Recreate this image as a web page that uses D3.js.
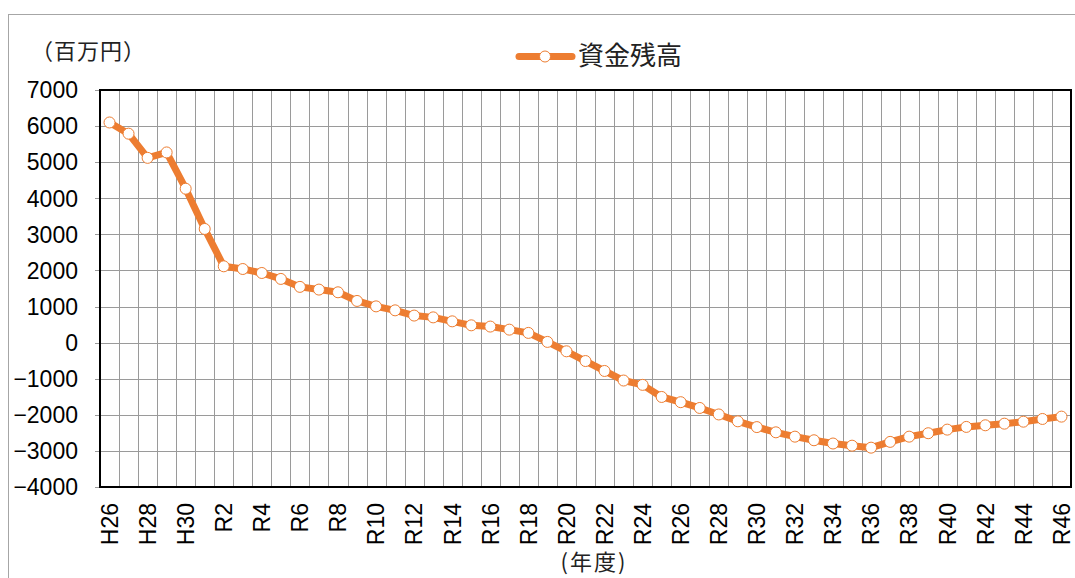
<!DOCTYPE html>
<html lang="ja">
<head>
<meta charset="UTF-8">
<title>資金残高</title>
<script src="https://d3js.org/d3.v7.min.js"></script>
<style>
  body { margin: 0; background: #fff; }
  svg { display: block; }
  .num { font-family: "Liberation Sans", Arial, sans-serif; fill: #000; }
  .jp { font-family: "Noto Sans CJK JP", sans-serif; fill: #222; }
</style>
</head>
<body>
<svg width="1075" height="578"></svg>
<script>
// 年度（H26〜H30, R1〜R46）
const years = ["H26", "H27", "H28", "H29", "H30"]
  .concat(d3.range(1, 47).map(i => "R" + i));

// 資金残高（百万円）
const balance = [
  6100, 5790, 5120, 5270, 4265,
  3150, 2115, 2040, 1930, 1765, 1545, 1470, 1395, 1155, 1005,
  895, 750, 700, 590, 480, 445, 360, 270, 20, -240,
  -510, -785, -1050, -1170, -1505, -1650, -1810, -1990, -2180, -2340,
  -2485, -2605, -2705, -2795, -2855, -2910, -2750, -2605, -2510, -2410,
  -2335, -2290, -2245, -2190, -2115, -2050
];

const yTicks = [7000, 6000, 5000, 4000, 3000, 2000, 1000, 0, -1000, -2000, -3000, -4000];

const svg = d3.select("svg");
const orange = "#ED7D31";

const plot = { left: 100, top: 90, right: 1071, bottom: 487 };

// 外枠
svg.append("rect")
  .attr("x", 8.5).attr("y", 14.5)
  .attr("width", 1080).attr("height", 600)
  .attr("fill", "none").attr("stroke", "#a6a6a6").attr("stroke-width", 1);

const x = d3.scaleBand()
  .domain(years)
  .range([plot.left, plot.right]);

const y = d3.scaleLinear()
  .domain([-4000, 7000])
  .range([plot.bottom, plot.top]);

// 縦グリッド（区切り線）
svg.append("g")
  .selectAll("line")
  .data(years.slice(1))
  .join("line")
  .attr("x1", d => Math.round(x(d)) + 0.5)
  .attr("x2", d => Math.round(x(d)) + 0.5)
  .attr("y1", plot.top).attr("y2", plot.bottom)
  .attr("stroke", "#9a9a9a").attr("stroke-width", 1);

// 横グリッド
svg.append("g")
  .selectAll("line")
  .data(yTicks)
  .join("line")
  .attr("x1", plot.left - 5).attr("x2", plot.right)
  .attr("y1", d => Math.round(y(d)) + 0.5)
  .attr("y2", d => Math.round(y(d)) + 0.5)
  .attr("stroke", "#9a9a9a").attr("stroke-width", 1);

// 枠線
svg.append("rect")
  .attr("x", plot.left).attr("y", plot.top)
  .attr("width", plot.right - plot.left)
  .attr("height", plot.bottom - plot.top)
  .attr("fill", "none").attr("stroke", "#000").attr("stroke-width", 2);

// Y軸ラベル
svg.append("g")
  .selectAll("text")
  .data(yTicks)
  .join("text")
  .attr("class", "num")
  .attr("x", 78)
  .attr("y", d => y(d))
  .attr("dy", "0.36em")
  .attr("text-anchor", "end")
  .attr("font-size", 23)
  .text(d => d < 0 ? "\u2212" + Math.abs(d) : d);

// X軸ラベル（1つおき）
svg.append("g")
  .selectAll("text")
  .data(years.filter((d, i) => i % 2 === 0))
  .join("text")
  .attr("class", "num")
  .attr("font-size", 23)
  .attr("text-anchor", "end")
  .attr("dy", "0.36em")
  .attr("transform", d => `translate(${x(d) + x.bandwidth() / 2},503) rotate(-90)`)
  .text(d => d);

// 折れ線
const line = d3.line()
  .x((d, i) => x(years[i]) + x.bandwidth() / 2)
  .y(d => y(d));

svg.append("path")
  .datum(balance)
  .attr("d", line)
  .attr("fill", "none")
  .attr("stroke", orange)
  .attr("stroke-width", 7)
  .attr("stroke-linejoin", "round");

svg.append("g")
  .selectAll("circle")
  .data(balance)
  .join("circle")
  .attr("cx", (d, i) => x(years[i]) + x.bandwidth() / 2)
  .attr("cy", d => y(d))
  .attr("r", 5.5)
  .attr("fill", "#fff")
  .attr("stroke", orange)
  .attr("stroke-width", 1);

// 単位・軸タイトル
svg.append("text")
  .attr("class", "jp")
  .attr("x", 31).attr("y", 51)
  .attr("dy", "0.35em")
  .attr("font-size", 22)
  .attr("letter-spacing", 1)
  .text("（百万円）");

svg.append("text")
  .attr("class", "jp")
  .attr("x", 594).attr("y", 562)
  .attr("dy", "0.35em")
  .attr("text-anchor", "middle")
  .attr("font-size", 22)
  .attr("letter-spacing", 2)
  .text("(年度)");

// 凡例
const legend = svg.append("g");
legend.append("line")
  .attr("x1", 519).attr("x2", 572)
  .attr("y1", 56.5).attr("y2", 56.5)
  .attr("stroke", orange).attr("stroke-width", 7)
  .attr("stroke-linecap", "round");
legend.append("circle")
  .attr("cx", 545).attr("cy", 56.5).attr("r", 5.5)
  .attr("fill", "#fff").attr("stroke", orange).attr("stroke-width", 1);
legend.append("text")
  .attr("class", "jp")
  .attr("x", 578).attr("y", 56)
  .attr("dy", "0.35em")
  .attr("font-size", 26)
  .text("資金残高");
</script>
</body>
</html>
